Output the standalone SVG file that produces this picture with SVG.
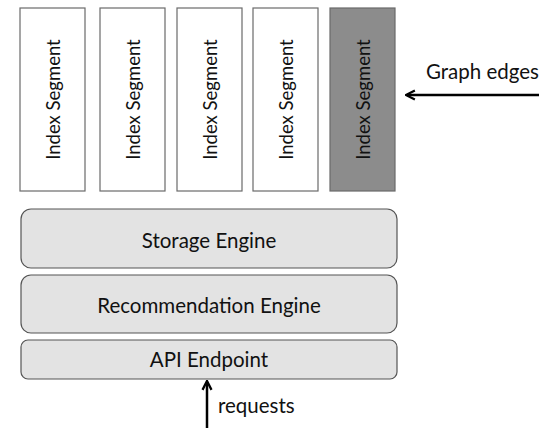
<svg xmlns="http://www.w3.org/2000/svg" width="556" height="428" viewBox="0 0 556 428">
<style>
.seg{fill:#fff;stroke:#6a6a6a;stroke-width:1.2}
.dark{fill:#8c8c8c}
.eng{fill:#e3e3e3;stroke:#555;stroke-width:1.2}
text{font-family:Lato,"Open Sans",sans-serif;fill:#111}
.st{font-size:18.5px}
.et{font-size:20.5px}
.ln{stroke:#000;stroke-width:2.5;fill:none}
</style>
<defs>
<marker id="ah" viewBox="0 0 10 10" refX="8" refY="5" markerWidth="4.5" markerHeight="4.5" orient="auto">
<path d="M1,1 L9,5 L1,9" fill="none" stroke="#000" stroke-width="2"/>
</marker>
</defs>
<g id="seg1"><rect class="seg" x="20" y="8" width="65" height="183"/><text class="st" transform="translate(59.5,99.5) rotate(-90)" text-anchor="middle">Index Segment</text></g>
<g id="seg2"><rect class="seg" x="100" y="8" width="65" height="183"/><text class="st" transform="translate(139.5,99.5) rotate(-90)" text-anchor="middle">Index Segment</text></g>
<g id="seg3"><rect class="seg" x="177" y="8" width="65" height="183"/><text class="st" transform="translate(216.5,99.5) rotate(-90)" text-anchor="middle">Index Segment</text></g>
<g id="seg4"><rect class="seg" x="253" y="8" width="65" height="183"/><text class="st" transform="translate(292.5,99.5) rotate(-90)" text-anchor="middle">Index Segment</text></g>
<g id="seg5"><rect class="seg dark" x="330" y="8" width="65" height="183"/><text class="st" transform="translate(369.5,99.5) rotate(-90)" text-anchor="middle">Index Segment</text></g>
<g id="storage"><rect class="eng" x="21" y="209" width="376" height="59" rx="10"/><text class="et" x="209" y="248" text-anchor="middle">Storage Engine</text></g>
<g id="recommendation"><rect class="eng" x="21" y="275" width="376" height="58" rx="10"/><text class="et" x="209" y="313" text-anchor="middle">Recommendation Engine</text></g>
<g id="api"><rect class="eng" x="21" y="340" width="376" height="39" rx="7"/><text class="et" x="209" y="367" text-anchor="middle">API Endpoint</text></g>
<g id="labels">
<text class="et" x="426" y="79">Graph edges</text>
<text class="et" x="218" y="413">requests</text>
</g>
<g id="connectors">
<path class="ln" d="M539,95 L407,95" marker-end="url(#ah)"/>
<path class="ln" d="M207,428 L207,382" marker-end="url(#ah)"/>
</g>
</svg>
